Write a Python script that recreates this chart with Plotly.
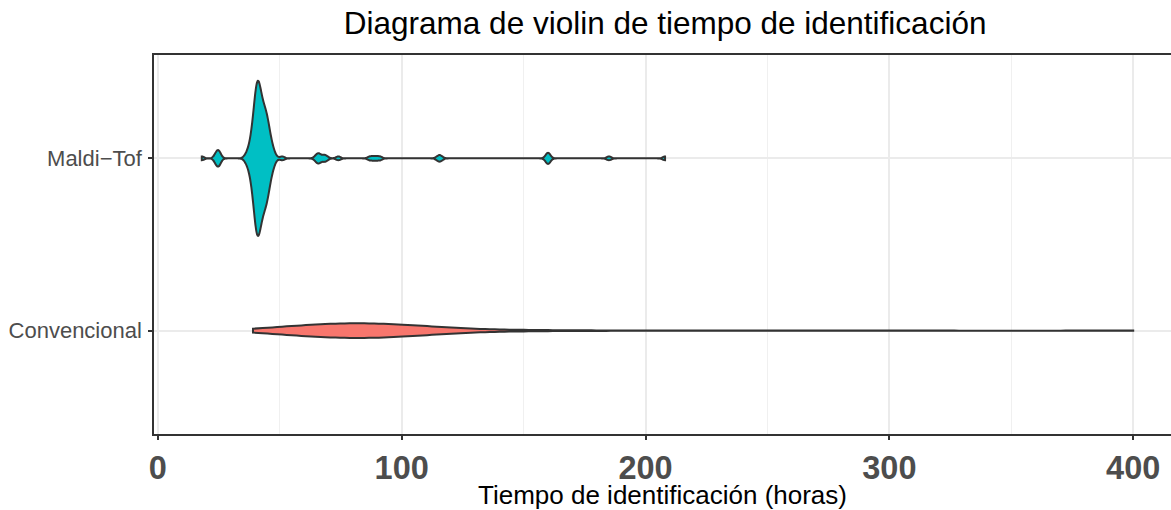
import numpy as np
import plotly.graph_objects as go

# ---- data (hours, with frequency of each value) ----
categories = ["Convencional", "Maldi\u2212Tof"]

maldi_hours = [18, 24, 25, 36, 37, 38, 39, 40, 41, 42, 43, 44, 45, 46, 47, 48, 51,
               65, 66, 68, 69, 74, 87, 89, 91, 115, 116, 160, 185, 208]
maldi_counts = [1, 2, 3, 1, 2, 4, 8, 16, 20, 15, 12, 11, 10, 5, 3, 1, 1,
                1, 2, 1, 1, 1, 1, 1, 1, 1, 1, 3, 1, 1]

conv_hours = [39, 44, 48, 52, 56, 60, 64, 68, 72, 76, 80, 84, 88, 92, 96,
              100, 104, 108, 112, 116, 120, 124, 130, 136, 142, 148, 156,
              168, 190, 240, 300, 400]
conv_counts = [2, 2, 3, 3, 4, 4, 5, 5, 6, 6, 6, 6, 6, 6, 5,
               5, 4, 4, 3, 3, 2, 2, 2, 1, 1, 1, 1,
               1, 1, 1, 1, 1]

x_ticks = [0, 100, 200, 300, 400]

maldi = np.repeat(maldi_hours, maldi_counts)
conv = np.repeat(conv_hours, conv_counts)

fig = go.Figure()
fig.add_trace(go.Violin(
    x=conv, y=[categories[0]] * len(conv), orientation="h",
    name=categories[0], fillcolor="#F8766D",
    line=dict(color="#333333", width=2),
    bandwidth=12, spanmode="hard", width=0.085, points=False,
    opacity=1, hoveron="violins", showlegend=False,
))
fig.add_trace(go.Violin(
    x=maldi, y=[categories[1]] * len(maldi), orientation="h",
    name=categories[1], fillcolor="#00BFC4",
    line=dict(color="#333333", width=2),
    bandwidth=1.0, spanmode="hard", width=0.9, points=False,
    opacity=1, hoveron="violins", showlegend=False,
))

fig.update_layout(
    width=1171, height=510,
    margin=dict(l=154, r=0, t=55, b=76, autoexpand=False),
    paper_bgcolor="white", plot_bgcolor="white",
    font=dict(family="Liberation Sans, Arial, sans-serif"),
    title=dict(text="Diagrama de violin de tiempo de identificación",
               x=0.568, xanchor="center", y=0.955, yanchor="middle",
               font=dict(size=31.5, color="black")),
    xaxis=dict(
        range=[-1.6, 415.5], tickvals=x_ticks,
        ticktext=[str(v) for v in x_ticks],
        tickfont=dict(size=32.5, color="#4D4D4D",
                      family="Liberation Sans, Arial, sans-serif", weight="bold"),
        showgrid=True, gridcolor="#EBEBEB", gridwidth=1.5,
        minor=dict(dtick=50, tick0=0, showgrid=True, gridcolor="#F0F0F0", gridwidth=1),
        showline=True, linecolor="#333333", linewidth=1.5, mirror=True,
        ticks="outside", ticklen=4, tickcolor="#333333", tickwidth=1.5,
        zeroline=False, automargin=False,
    ),
    yaxis=dict(
        type="category", categoryorder="array", categoryarray=categories,
        range=[-0.6, 1.6],
        tickfont=dict(size=22, color="#4D4D4D"),
        showgrid=True, gridcolor="#EBEBEB", gridwidth=1.5,
        showline=True, linecolor="#333333", linewidth=1.5, mirror=False,
        ticks="outside", ticklen=4, tickcolor="#333333", tickwidth=1.5,
        ticklabelstandoff=2,
        zeroline=False, automargin=False,
    ),
    annotations=[dict(
        text="Tiempo de identificación (horas)",
        xref="paper", yref="paper", x=0.5, y=-0.206,
        xanchor="center", yanchor="bottom", showarrow=False,
        font=dict(size=26, color="black"),
    )],
)

fig.write_html(
    "out.html",
    config={"displayModeBar": False},
    post_script="document.body.style.margin='0';document.body.style.padding='0';",
)
